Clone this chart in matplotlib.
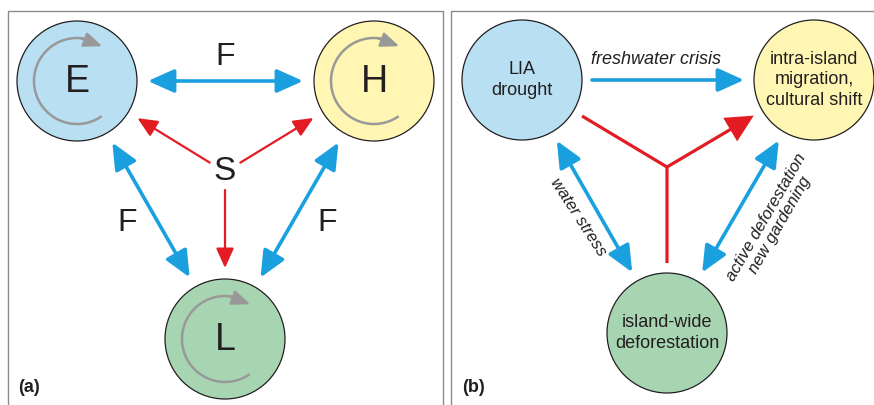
import numpy as np
import matplotlib
matplotlib.use('Agg')
import matplotlib.pyplot as plt
from matplotlib.patches import Circle, FancyArrowPatch, ArrowStyle

plt.rcParams['font.family'] = ['Liberation Sans', 'DejaVu Sans']

# Узлы схемы
nodes_a = ['E', 'H', 'L']
nodes_b = ['LIA\ndrought', 'intra-island\nmigration,\ncultural shift', 'island-wide\ndeforestation']
node_colors = ['#b8dff2', '#fff6b3', '#a8d5b1']

# Связи (индексы узлов) и подписи
links_a = [(0, 1), (0, 2), (1, 2)]
link_labels_a = ['F', 'F', 'F']
links_b = [(0, 1), (0, 2), (1, 2)]
link_labels_b = ['freshwater crisis', 'water stress', 'active deforestation\nnew gardening']
double_head_b = [False, True, True]
center_label_a = 'S'
panel_labels = ['(a)', '(b)']

# Раскладка в пикселях
pos_a = np.array([[77, 81], [374, 81], [225, 339]], dtype=float)
pos_b = np.array([[522, 80], [814, 80], [667, 333]], dtype=float)
s_pos = np.array([225, 172], dtype=float)
y_junction = np.array([667, 167], dtype=float)
R = 60
label_pos_a = [(225, 57), (127, 223), (327, 223)]
label_pos_b = [(656, 59), (578, 217), (773, 221)]
label_rot_b = [0, -57, 60]

BLUE = '#1a9fdf'
RED = '#e31b23'
GREY = '#999999'
INK = '#231f20'

fig = plt.figure(figsize=(8.74, 4.05), dpi=100)
ax = fig.add_axes([0, 0, 1, 1])
ax.set_xlim(0, 874)
ax.set_ylim(405, 0)
ax.axis('off')

# Рамки панелей
for x0, x1 in [(8, 443), (451, 880)]:
    ax.plot([x0, x0, x1, x1], [420, 11, 11, 420], color='#8c8c8c', lw=1.0)


def unit(p, q):
    d = q - p
    return d / np.hypot(*d)


def pt(c, r, deg):
    t = np.radians(deg)
    return np.array([c[0] + r * np.cos(t), c[1] - r * np.sin(t)])


def link_arrow(p, q, gap, style, color, lw, ms, head_len, head_w):
    u = unit(p, q)
    a = p + (R + gap) * u
    b = q - (R + gap) * u
    arr = FancyArrowPatch(a, b, arrowstyle=ArrowStyle(style, head_length=head_len, head_width=head_w),
                          mutation_scale=ms, color=color, lw=lw, shrinkA=0, shrinkB=0, zorder=3)
    ax.add_patch(arr)


def cycle_arrow(c):
    # серая круговая стрелка внутри узла
    r = 43
    t = np.linspace(-55, -282, 80)
    pts = np.array([pt(c, r, d) for d in t])
    ax.plot(pts[:, 0], pts[:, 1], color=GREY, lw=1.8, solid_capstyle='butt', zorder=4)
    ax.add_patch(FancyArrowPatch(pt(c, r, -275), pt(c, r, -306),
                                 arrowstyle=ArrowStyle('-|>', head_length=1.1, head_width=0.45),
                                 mutation_scale=10, color=GREY, lw=1.8, shrinkA=0, shrinkB=0, zorder=4))


# Панель (a)
for name, c, col in zip(nodes_a, pos_a, node_colors):
    ax.add_patch(Circle(c, R, facecolor=col, edgecolor=INK, lw=0.9, zorder=2))
    cycle_arrow(c)
    ax.text(c[0], c[1] + 1, name, ha='center', va='center', fontsize=27, color=INK, zorder=5)

for (i, j), lab, lp in zip(links_a, link_labels_a, label_pos_a):
    link_arrow(pos_a[i], pos_a[j], 11, '<|-|>', BLUE, 2.6, 16, 1.0, 0.45)
    ax.text(lp[0], lp[1], lab, ha='center', va='center', fontsize=23, color=INK)

ax.text(s_pos[0], s_pos[1], center_label_a, ha='center', va='center', fontsize=24, color=INK)
for c in pos_a:
    u = unit(s_pos, c)
    a = s_pos + 18 * u
    b = c - (R + 11) * u
    ax.add_patch(FancyArrowPatch(a, b, arrowstyle=ArrowStyle('-|>', head_length=1.0, head_width=0.45),
                                 mutation_scale=12, color=RED, lw=1.6, shrinkA=0, shrinkB=0, zorder=3))

# Панель (b)
for name, c, col in zip(nodes_b, pos_b, node_colors):
    ax.add_patch(Circle(c, R, facecolor=col, edgecolor=INK, lw=0.9, zorder=2))
    ax.text(c[0], c[1], name, ha='center', va='center', fontsize=13, color=INK,
            linespacing=1.3, zorder=5)

for (i, j), lab, lp, rot, dbl in zip(links_b, link_labels_b, label_pos_b, label_rot_b, double_head_b):
    style = '<|-|>' if dbl else '-|>'
    link_arrow(pos_b[i], pos_b[j], 10, style, BLUE, 2.6, 16, 1.0, 0.45)
    fs = 13 if rot == 0 else 12
    ax.text(lp[0], lp[1], lab, ha='center', va='center', fontsize=fs, style='italic',
            color=INK, rotation=rot, rotation_mode='anchor', linespacing=1.1)

# Красная развилка
for k, c in enumerate(pos_b):
    u = unit(y_junction, c)
    b = c - (R + 10) * u
    if k == 1:
        style = ArrowStyle('-|>', head_length=1.0, head_width=0.5)
    else:
        style = ArrowStyle('-')
    ax.add_patch(FancyArrowPatch(y_junction, b, arrowstyle=style,
                                 mutation_scale=16, color=RED, lw=2.3, shrinkA=0, shrinkB=0,
                                 capstyle='butt', joinstyle='miter', zorder=3))

ax.text(18, 387, panel_labels[0], ha='left', va='center', fontsize=13, fontweight='bold', color=INK)
ax.text(462, 387, panel_labels[1], ha='left', va='center', fontsize=13, fontweight='bold', color=INK)

fig.savefig('out.png', dpi=100)
